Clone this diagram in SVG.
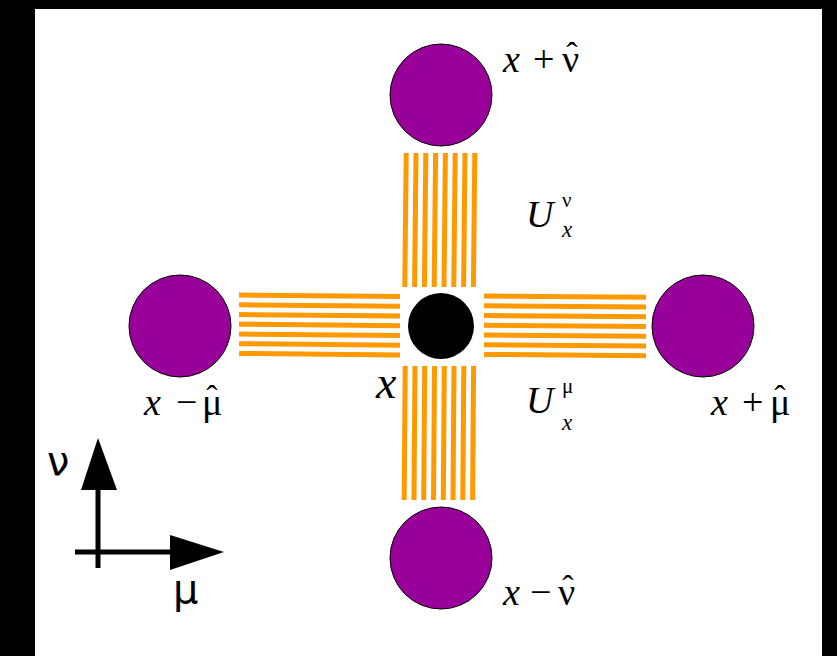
<svg xmlns="http://www.w3.org/2000/svg" width="837" height="656" viewBox="0 0 837 656">
<defs>
<style>
.site{fill:#990099;stroke:#000;stroke-width:1}
.link line{stroke:#FF9900;stroke-width:5}
.m{font-family:"Liberation Serif","Times New Roman",serif;fill:#000}
.i{font-style:italic}
.h{font-family:"Liberation Serif","Times New Roman",serif;fill:#000;text-anchor:middle;font-size:34px}
.s{font-family:"DejaVu Sans","Liberation Sans",sans-serif;fill:#000}
.ax{stroke:#000;stroke-width:5;fill:none}
</style>
</defs>
<rect x="0" y="0" width="837" height="656" fill="#000"/>
<rect x="35" y="9" width="787" height="647" fill="#fff"/>

<g id="links">
<g id="link-up" class="link">
<line x1="406.2" y1="153" x2="404.8" y2="287"/>
<line x1="416" y1="153" x2="414.6" y2="287"/>
<line x1="425.8" y1="153" x2="424.4" y2="287"/>
<line x1="435.6" y1="153" x2="434.2" y2="287"/>
<line x1="445.4" y1="153" x2="444" y2="287"/>
<line x1="455.2" y1="153" x2="453.8" y2="287"/>
<line x1="465" y1="153" x2="463.6" y2="287"/>
<line x1="474.8" y1="153" x2="473.4" y2="287"/>
</g>
<g id="link-down" class="link">
<line x1="405.2" y1="366" x2="404.2" y2="500"/>
<line x1="415" y1="366" x2="414" y2="500"/>
<line x1="424.7" y1="366" x2="423.7" y2="500"/>
<line x1="434.5" y1="366" x2="433.5" y2="500"/>
<line x1="444.3" y1="366" x2="443.3" y2="500"/>
<line x1="454" y1="366" x2="453" y2="500"/>
<line x1="463.8" y1="366" x2="462.8" y2="500"/>
<line x1="473.6" y1="366" x2="472.6" y2="500"/>
</g>
<g id="link-left" class="link">
<line x1="239" y1="295" x2="400" y2="296.5"/>
<line x1="239" y1="304.8" x2="400" y2="306.3"/>
<line x1="239" y1="314.5" x2="400" y2="316"/>
<line x1="239" y1="324.2" x2="400" y2="325.7"/>
<line x1="239" y1="334" x2="400" y2="335.5"/>
<line x1="239" y1="343.7" x2="400" y2="345.2"/>
<line x1="239" y1="353.4" x2="400" y2="354.9"/>
</g>
<g id="link-right" class="link">
<line x1="484" y1="296" x2="646" y2="297.3"/>
<line x1="484" y1="305.8" x2="646" y2="307.1"/>
<line x1="484" y1="315.5" x2="646" y2="316.8"/>
<line x1="484" y1="325.2" x2="646" y2="326.5"/>
<line x1="484" y1="335" x2="646" y2="336.3"/>
<line x1="484" y1="344.7" x2="646" y2="346"/>
<line x1="484" y1="354.4" x2="646" y2="355.7"/>
</g>
</g>

<g id="site-center"><circle cx="441" cy="326" r="33" fill="#000"/></g>
<g id="site-up"><circle class="site" cx="441" cy="95" r="51"/></g>
<g id="site-down"><circle class="site" cx="441" cy="558" r="51"/></g>
<g id="site-left"><circle class="site" cx="180" cy="326" r="51"/></g>
<g id="site-right"><circle class="site" cx="703" cy="326" r="51"/></g>

<g id="labels" font-size="38">
<g id="label-up">
<text class="m" y="72"><tspan class="i" x="503">x</tspan><tspan x="533">+</tspan><tspan x="562">ν</tspan></text>
<text class="h" x="572" y="66">ˆ</text>
</g>
<g id="label-down">
<text class="m" y="605"><tspan class="i" x="503">x</tspan><tspan x="530">−</tspan><tspan x="558">ν</tspan></text>
<text class="h" x="568" y="599">ˆ</text>
</g>
<g id="label-left">
<text class="m" y="415"><tspan class="i" x="144">x</tspan><tspan x="176">−</tspan><tspan x="202">μ</tspan></text>
<text class="h" x="212" y="409">ˆ</text>
</g>
<g id="label-right">
<text class="m" y="415"><tspan class="i" x="711">x</tspan><tspan x="742">+</tspan><tspan x="770">μ</tspan></text>
<text class="h" x="780" y="409">ˆ</text>
</g>
<text class="m i" x="376" y="398" font-size="46">x</text>
<g id="label-Unu">
<text class="m i" x="526" y="227" font-size="38">U</text>
<text class="m" x="562" y="207" font-size="21">ν</text>
<text class="m i" x="562" y="237" font-size="23">x</text>
</g>
<g id="label-Umu">
<text class="m i" x="526" y="413" font-size="38">U</text>
<text class="m" x="562" y="393" font-size="21">μ</text>
<text class="m i" x="562" y="430" font-size="23">x</text>
</g>
</g>

<g id="axes">
<line class="ax" x1="98" y1="568" x2="98" y2="488"/>
<polygon points="98,438 81,490 117,490" fill="#000"/>
<line class="ax" x1="75" y1="552" x2="172" y2="552"/>
<polygon points="224,552 170,535 170,570" fill="#000"/>
<text class="s" x="47" y="475" font-size="40">ν</text>
<text class="s" x="173" y="603" font-size="40">μ</text>
</g>
</svg>
